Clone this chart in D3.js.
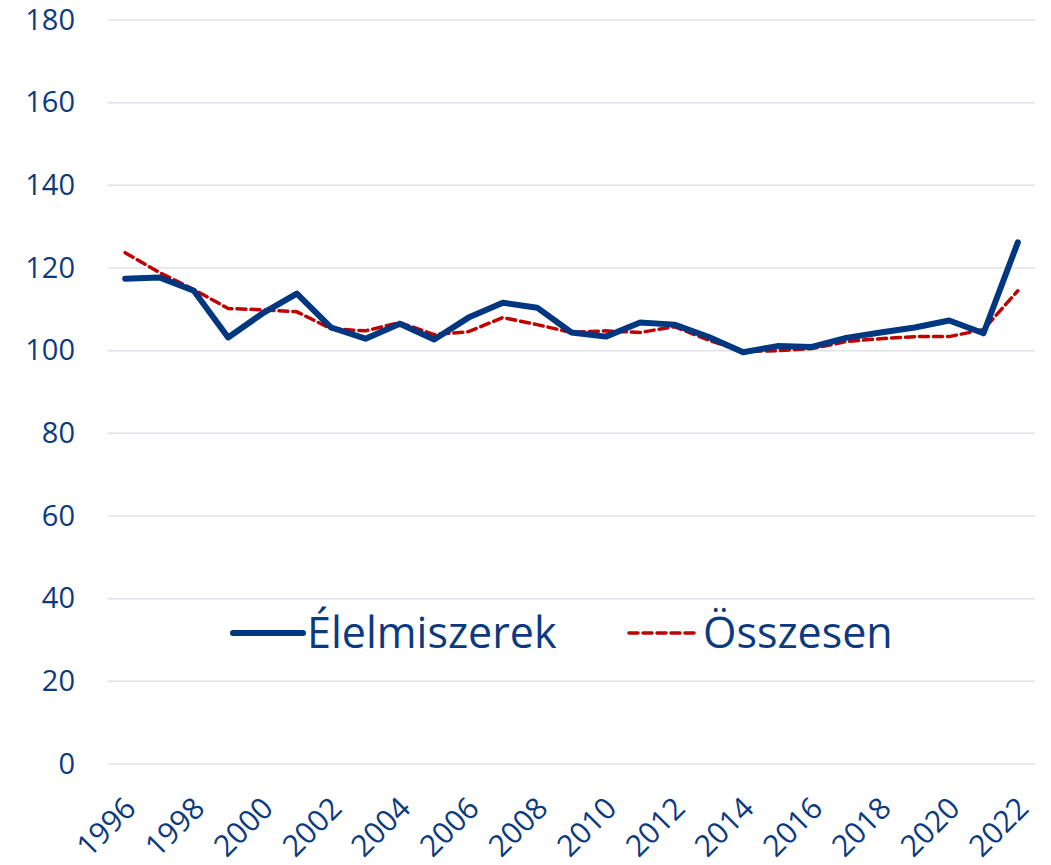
<!DOCTYPE html>
<html>
<head>
<meta charset="utf-8">
<script src="https://cdn.jsdelivr.net/npm/d3@7"></script>
<style>
  body { margin: 0; background: #fff; }
  svg text { font-family: "Open Sans", sans-serif; fill: #0b3a80; }
</style>
</head>
<body>
<div id="chart"></div>
<script>
// chart data
var years = ["1996","1997","1998","1999","2000","2001","2002","2003","2004","2005","2006","2007","2008","2009",
             "2010","2011","2012","2013","2014","2015","2016","2017","2018","2019","2020","2021","2022"];
var elelmiszerek = [117.4,117.7,114.5,103.2,109,113.8,105.6,102.9,106.5,102.7,108,111.6,110.4,104.4,
                    103.4,106.8,106.3,103.3,99.6,101.1,100.9,103.1,104.4,105.6,107.3,104.2,126.2];
var osszesen = [123.7,118.9,114.8,110.2,109.9,109.4,105.3,104.8,106.8,103.9,104.6,108,106.3,104.4,
                104.8,104.4,105.8,102.5,99.8,100,100.5,102.2,102.9,103.4,103.4,105.1,114.5];
var yTicks = [0,20,40,60,80,100,120,140,160,180];
var tickYears = years.filter(function(d, i) { return i % 2 === 0; });
var seriesNames = ["Élelmiszerek", "Összesen"];

var width = 1051;
var height = 865;
var margin = {left: 108, right: 16, top: 20, bottom: 101};

var svg = d3.select("#chart")
  .append("svg")
  .attr("width", width)
  .attr("height", height);

var x = d3.scalePoint()
  .domain(years)
  .range([margin.left, width - margin.right])
  .padding(0.5);

var y = d3.scaleLinear()
  .domain([0, 180])
  .range([height - margin.bottom, margin.top]);

// gridlines
svg.append("g")
  .selectAll("line")
  .data(yTicks)
  .enter().append("line")
  .attr("x1", margin.left)
  .attr("x2", width - margin.right)
  .attr("y1", function(d) { return y(d); })
  .attr("y2", function(d) { return y(d); })
  .attr("stroke", "#dfe2e8")
  .attr("stroke-width", 1.5);

// y axis labels
var yAxis = svg.append("g")
  .attr("transform", "translate(" + (margin.left - 33) + ",0)")
  .call(d3.axisLeft(y).tickValues(yTicks).tickSize(0).tickPadding(0));
yAxis.select(".domain").remove();
yAxis.selectAll("text")
  .style("font-size", "29px")
  .style("font-family", "'Open Sans', sans-serif")
  .attr("fill", "#0b3a80");

// x axis labels
var xAxis = svg.append("g")
  .attr("transform", "translate(0," + (height - margin.bottom) + ")")
  .call(d3.axisBottom(x).tickValues(tickYears).tickSize(0).tickPadding(0));
xAxis.select(".domain").remove();
xAxis.selectAll("text")
  .style("font-size", "30px")
  .style("font-family", "'Open Sans', sans-serif")
  .attr("fill", "#0b3a80")
  .attr("text-anchor", "end")
  .attr("dy", 0)
  .attr("transform", "translate(12,46) rotate(-45)");

var line = d3.line()
  .x(function(d, i) { return x(years[i]); })
  .y(function(d) { return y(d); });

svg.append("path")
  .datum(osszesen)
  .attr("fill", "none")
  .attr("stroke", "#c00000")
  .attr("stroke-width", 3.5)
  .attr("stroke-dasharray", "9,5")
  .attr("stroke-linecap", "round")
  .attr("d", line);

svg.append("path")
  .datum(elelmiszerek)
  .attr("fill", "none")
  .attr("stroke", "#003781")
  .attr("stroke-width", 6)
  .attr("stroke-linecap", "round")
  .attr("stroke-linejoin", "round")
  .attr("d", line);

// legend
var legend = svg.append("g").attr("transform", "translate(0,633)");
var legendX = [233, 629];
var legendStyle = [
  {stroke: "#003781", width: 6, dash: null},
  {stroke: "#c00000", width: 3.5, dash: "9,5"}
];
seriesNames.forEach(function(name, i) {
  legend.append("line")
    .attr("x1", legendX[i])
    .attr("x2", legendX[i] + 70)
    .attr("y1", 0)
    .attr("y2", 0)
    .attr("stroke", legendStyle[i].stroke)
    .attr("stroke-width", legendStyle[i].width)
    .attr("stroke-dasharray", legendStyle[i].dash)
    .attr("stroke-linecap", "round");
  legend.append("text")
    .attr("x", legendX[i] + 74)
    .attr("y", 15)
    .style("font-size", "43px")
    .text(name);
});
</script>
</body>
</html>
